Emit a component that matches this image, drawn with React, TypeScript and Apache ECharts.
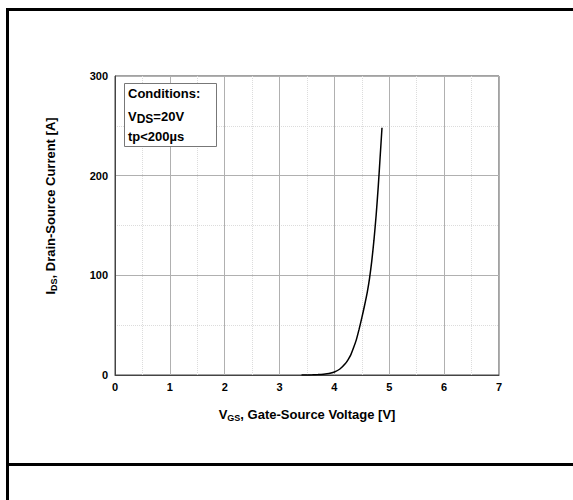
import React, { useEffect, useRef } from "react";
import * as echarts from "echarts";

const vgs = [3.4, 3.5, 3.6, 3.7, 3.8, 3.9, 4.0, 4.1, 4.2, 4.25, 4.3, 4.35, 4.4, 4.45, 4.5, 4.55, 4.6, 4.64, 4.68, 4.72, 4.76, 4.8, 4.83, 4.867];
const ids = [0, 0.05, 0.2, 0.45, 0.85, 1.5, 3, 6, 11.5, 15.5, 20.5, 27.5, 35.5, 46, 57.5, 70, 83.5, 97, 114, 135, 160, 190, 216, 248];
const xTicks = [0, 1, 2, 3, 4, 5, 6, 7];
const yTicks = [0, 100, 200, 300];
const conditions = ["Conditions:", "VDS=20V", "tp<200µs"];

const FONT = "Liberation Sans, Arial, sans-serif";

export default function App() {
  const ref = useRef<HTMLDivElement>(null);
  useEffect(() => {
    if (!ref.current) return;
    const chart = echarts.init(ref.current, null, { renderer: "svg" });
    const data = vgs.map((v, i) => [v, ids[i]]);
    chart.setOption({
      animation: false,
      backgroundColor: "#fff",
      textStyle: { fontFamily: FONT },
      grid: { left: 115, top: 76, right: 74, bottom: 125, show: true, borderColor: "#444", borderWidth: 1, containLabel: false },
      xAxis: {
        type: "value",
        min: xTicks[0],
        max: xTicks[xTicks.length - 1],
        interval: 1,
        axisLine: { lineStyle: { color: "#444", width: 1 } },
        axisTick: { show: false },
        axisLabel: { color: "#000", fontWeight: "bold", fontSize: 11, fontFamily: FONT, margin: 6 },
        splitLine: { show: true, lineStyle: { color: "#b0b0b0", width: 1 } },
        minorTick: { show: false, splitNumber: 2 },
        minorSplitLine: { show: true, lineStyle: { color: "#dcdcdc", type: "dotted", width: 1 } },
        name: "{a|V}{b|GS}{a|, Gate-Source Voltage [V]}",
        nameLocation: "middle",
        nameGap: 31,
        nameTextStyle: {
          rich: {
            a: { fontSize: 13, fontWeight: "bold", color: "#000", fontFamily: FONT, lineHeight: 16 },
            b: { fontSize: 9, fontWeight: "bold", color: "#000", fontFamily: FONT, lineHeight: 16, padding: [8, 0, 0, 0] },
          },
        },
      },
      yAxis: {
        type: "value",
        min: yTicks[0],
        max: yTicks[yTicks.length - 1],
        interval: 100,
        axisLine: { show: true, lineStyle: { color: "#444", width: 1 } },
        axisTick: { show: false },
        axisLabel: { color: "#000", fontWeight: "bold", fontSize: 11, fontFamily: FONT, margin: 7 },
        splitLine: { show: true, lineStyle: { color: "#b0b0b0", width: 1 } },
        minorTick: { show: false, splitNumber: 2 },
        minorSplitLine: { show: true, lineStyle: { color: "#dcdcdc", type: "dotted", width: 1 } },
      },
      series: [
        {
          type: "line",
          data,
          showSymbol: false,
          smooth: 0.2,
          lineStyle: { color: "#000", width: 1.5 },
          z: 5,
        },
      ],
      graphic: [
        { type: "line", shape: { x1: 7.5, y1: 9, x2: 7.5, y2: 500 }, style: { stroke: "#000", lineWidth: 3 }, z: 100 },
        { type: "line", shape: { x1: 6, y1: 9.5, x2: 573, y2: 9.5 }, style: { stroke: "#000", lineWidth: 3 }, z: 100 },
        { type: "line", shape: { x1: 6, y1: 464.5, x2: 573, y2: 464.5 }, style: { stroke: "#000", lineWidth: 3 }, z: 100 },
        {
          type: "rect",
          shape: { x: 124.5, y: 83.5, width: 92, height: 63 },
          style: { fill: "#fff", stroke: "#777", lineWidth: 1 },
          z: 50,
        },
        {
          type: "text",
          x: 128,
          y: 87,
          z: 51,
          style: {
            text: conditions[0],
            fontSize: 13,
            fontWeight: "bold",
            fontFamily: FONT,
            fill: "#000",
          },
        },
        {
          type: "text",
          x: 128,
          y: 108,
          z: 51,
          style: {
            text: "{a|V}{b|DS}{a|=20V}",
            rich: {
              a: { fontSize: 13, fontWeight: "bold", fontFamily: FONT, fill: "#000", lineHeight: 16 },
              b: { fontSize: 12, fontWeight: "bold", fontFamily: FONT, fill: "#000", lineHeight: 16, padding: [5, 0, 0, 0] },
            },
          },
        },
        {
          type: "text",
          x: 128,
          y: 130,
          z: 51,
          style: {
            text: conditions[2],
            fontSize: 13,
            fontWeight: "bold",
            fontFamily: FONT,
            fill: "#000",
          },
        },
        {
          type: "text",
          x: 50,
          y: 206,
          rotation: Math.PI / 2,
          z: 51,
          style: {
            text: "{a|I}{b|DS}{a|, Drain-Source Current [A]}",
            align: "center",
            verticalAlign: "middle",
            rich: {
              a: { fontSize: 13, fontWeight: "bold", fontFamily: FONT, fill: "#000", lineHeight: 16 },
              b: { fontSize: 9, fontWeight: "bold", fontFamily: FONT, fill: "#000", lineHeight: 16, padding: [8, 0, 0, 0] },
            },
          },
        },
      ],
    });
    return () => chart.dispose();
  }, []);
  return (
    <div
      ref={ref}
      style={{ position: "absolute", left: 0, top: 0, width: 573, height: 500 }}
    />
  );
}
